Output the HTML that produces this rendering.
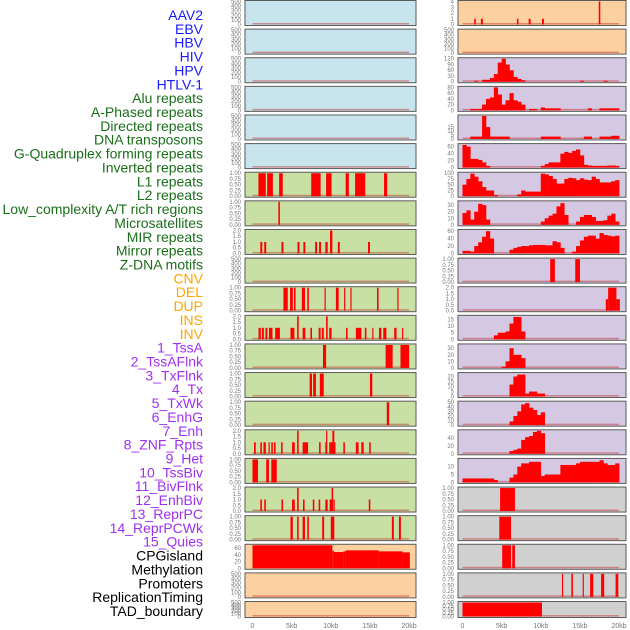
<!DOCTYPE html>
<html><head><meta charset="utf-8">
<style>
body{margin:0;background:#fff;}
svg{display:block;font-family:"Liberation Sans",sans-serif;}
</style></head>
<body>
<svg id="chart" width="630" height="630" viewBox="0 0 630 630" xmlns="http://www.w3.org/2000/svg">
<g id="labels"></g>
<g id="panels"></g>
</svg>
<script>
// ---------- data ----------
const trackNames = ["AAV2","EBV","HBV","HIV","HPV","HTLV-1","Alu repeats","A-Phased repeats","Directed repeats","DNA transposons","G-Quadruplex forming repeats","Inverted repeats","L1 repeats","L2 repeats","Low_complexity A/T rich regions","Microsatellites","MIR repeats","Mirror repeats","Z-DNA motifs","CNV","DEL","DUP","INS","INV","1_TssA","2_TssAFlnk","3_TxFlnk","4_Tx","5_TxWk","6_EnhG","7_Enh","8_ZNF_Rpts","9_Het","10_TssBiv","11_BivFlnk","12_EnhBiv","13_ReprPC","14_ReprPCWk","15_Quies","CPGisland","Methylation","Promoters","ReplicationTiming","TAD_boundary"];
const labelColors = ["#1a1aff","#1a6e1a","#ffa500","#a030f0","#000000"];
const groupSizes = [6,13,5,15,5];
const xTickKb = [0,5,10,15,20];
const xTickLabels = ["0","5kb","10kb","15kb","20kb"];
const ticks500 = [0,100,200,300,400,500];
const ticks1 = [0,0.25,0.5,0.75,1];
const ticks2 = [0,0.5,1,1.5,2];

// left column segment data [startKb, endKb, value]
const segL7 = [[0.76,1.7,1],[1.87,2.6,1],[3.4,3.86,1],[7.5,8.7,1],[9.4,10.1,1],[11.9,12.3,1],[13.1,14.4,1],[16.8,17.2,1]];
const segL8 = [[3.3,3.5,1]];
const segL9 = [[1.0,1.25,1],[1.5,1.75,1],[3.7,3.95,1],[5.75,6.0,1],[6.5,6.75,1],[8.0,8.25,1],[8.5,8.75,1],[9.3,9.6,1],[9.9,10.2,2],[10.9,11.15,1],[14.75,15.0,1]];
const segL11 = [[3.95,4.5,1],[4.8,5.15,1],[5.3,5.5,1],[6.3,6.7,1],[7.0,7.2,1],[9.2,9.35,1],[10.65,11.0,1],[11.7,11.85,1],[12.5,12.65,1],[15.9,16.1,1],[18.5,18.65,1]];
const segL12 = [[0.77,1.06,1],[1.2,1.45,1],[1.65,1.9,1],[2.1,2.55,1],[2.9,3.5,1],[4.85,5.35,1],[5.7,5.9,2],[6.4,6.75,1],[7.4,7.6,1],[8.45,8.7,1],[8.85,9.1,1],[9.4,9.6,2],[9.8,10.1,1],[11.95,12.15,1],[13.2,13.9,1],[14.35,14.55,1],[15.3,15.45,1],[16.15,16.45,1],[16.7,17.1,1],[18.1,18.4,1],[19.1,19.25,1]];
const segL13 = [[9.0,9.4,1],[17.0,17.9,1],[18.9,20.0,1]];
const segL14 = [[7.3,7.6,1],[7.75,8.1,1],[8.6,9.1,1],[15.0,15.3,1]];
const segL15 = [[17.15,17.45,1]];
const segL16 = [[0.2,0.42,1],[1.0,1.2,1],[1.4,1.7,1],[2.05,2.2,1],[2.4,2.6,1],[2.75,2.95,1],[3.65,3.85,1],[5.05,5.4,1],[5.7,5.9,2],[6.4,7.1,1],[8.5,8.7,1],[9.3,9.5,1],[9.4,9.55,2],[9.8,10.6,1],[10.2,10.45,2],[11.6,11.8,1],[13.2,13.55,1],[13.9,14.2,1],[14.9,15.1,1]];
const segL17 = [[0,0.7,1],[1.75,2.1,1],[2.4,3.1,1]];
const segL18 = [[1.0,1.2,1],[1.5,1.7,1],[3.7,3.9,1],[5.05,5.4,1],[5.7,5.9,2],[6.45,6.65,1],[7.7,7.9,1],[8.45,8.65,1],[9.3,9.6,1],[9.85,10.15,1],[10.1,10.3,2],[10.35,10.5,1],[14.85,15.05,1]];
const segL19 = [[4.85,5.15,1],[5.7,5.9,1],[6.4,6.7,1],[7.0,7.2,1],[8.9,9.15,1],[10.0,10.45,1],[17.8,18.05,1],[18.7,18.95,1]];
const segCpg = [[0,10.2,68],[10.2,10.4,52],[10.4,11.6,48],[11.6,11.9,50],[11.9,16.1,53],[16.1,19.15,50],[19.15,20.1,47]];

// right column
const segR1 = [[1.5,1.7,1],[2.35,2.6,1],[6.95,7.15,1],[8.45,8.7,1],[10.15,10.4,1],[17.4,17.6,4]];
const histR3 = [0,0,0,5,0,10,10,20,40,100,120,90,60,25,15,8,0,0,0,0,0,0,0,0,0,0,0,0,0,0,5,0,0,0,0,0,5,0,0,0];
const histR4 = [0,0,5,5,5,20,40,45,80,55,20,35,60,35,30,20,0,5,5,0,10,7,7,7,7,0,0,0,0,0,0,0,7,0,0,7,7,7,7,7];
const histR5 = [0,0,3,3,3,29,15,3,3,3,3,3,0,0,0,0,0,0,0,0,3,3,3,3,3,0,0,0,0,0,0,3,3,0,0,3,3,3,4,4];
const histR6 = [65,60,25,25,22,15,5,0,0,0,0,0,0,0,0,0,0,0,0,0,5,10,15,15,15,40,45,42,48,52,35,8,6,5,5,5,5,6,6,5];
const histR7 = [50,75,98,85,65,40,25,25,5,0,0,0,0,0,8,25,20,20,20,20,98,95,88,75,55,55,75,80,78,70,78,72,70,85,75,60,60,60,65,70];
const histR8 = [18,22,8,20,32,30,8,0,0,0,0,0,0,0,0,0,0,0,0,0,5,10,14,17,28,33,15,0,0,5,12,15,15,12,6,6,7,14,17,5];
const histR9 = [7,7,5,20,30,45,60,40,0,0,0,0,10,15,18,20,20,22,23,23,23,22,22,33,30,15,0,0,5,20,35,45,48,48,40,55,50,48,46,48];
const segR10 = [[11.2,11.8,1],[14.4,15.0,1]];
const segR11 = [[18.3,18.6,1],[18.6,19.66,2],[19.66,20.1,1]];
const histR12 = [0,0,0,0,0,0,0,0,3,5,5,6,12,17,17,6,0,0,0,0,0,0,0,0,0,0,0,0,0,0,0,0,0,0,0,0,0,0,0,0];
const histR13 = [0,0,0,0,0,0,0,0,0,0,2,10,30,20,20,15,0,0,0,0,0,0,0,0,0,0,0,0,0,0,0,0,0,0,0,0,0,0,0,0];
const histR14 = [0,0,0,0,0,0,0,0,0,0,0,0,12,20,22,22,3,5,5,3,3,0,0,0,0,0,0,0,0,0,0,0,0,0,0,0,0,0,0,0];
const histR15 = [0,0,0,0,0,0,0,0,0,0,0,0,8,20,30,45,48,38,33,22,28,0,0,0,0,0,0,0,0,0,0,0,0,0,0,0,0,0,0,0];
const histR16 = [0,0,0,0,0,0,0,0,0,0,0,0,7,10,13,35,42,45,55,58,52,0,0,0,0,0,0,0,0,0,0,0,0,0,0,0,0,0,0,0];
const histR17 = [2.5,2.5,2.5,2.5,2.5,2.5,2.5,2.5,1.5,0,0,0,3,5,10,12,12,13,13,13,4,5,5,5,5,11,11,11,11,12,13,13,13,13,13,14,12,11,11,12];
const segR18 = [[4.8,6.7,1]];
const segR19 = [[4.8,6.7,1]];
const segR20 = [[4.7,6.2,1]];
const segR21 = [[5.07,6.2,1],[6.35,6.7,1]];
const segR22 = [[12.7,12.85,1],[13.9,14.1,1],[15.35,15.5,1],[16.3,16.7,1],[17.7,18.1,1],[19.55,19.9,1]];
const segR23 = [[0,10.15,1]];

const leftTracks = [
 {fill:"#c8e4ec",max:500,ticks:ticks500},{fill:"#c8e4ec",max:500,ticks:ticks500},{fill:"#c8e4ec",max:500,ticks:ticks500},
 {fill:"#c8e4ec",max:500,ticks:ticks500},{fill:"#c8e4ec",max:500,ticks:ticks500},{fill:"#c8e4ec",max:500,ticks:ticks500},
 {fill:"#c8e0a4",max:1,ticks:ticks1,segs:segL7},{fill:"#c8e0a4",max:1,ticks:ticks1,segs:segL8},
 {fill:"#c8e0a4",max:2,ticks:ticks2,segs:segL9},{fill:"#c8e0a4",max:500,ticks:ticks500},
 {fill:"#c8e0a4",max:1,ticks:ticks1,segs:segL11},{fill:"#c8e0a4",max:2,ticks:ticks2,segs:segL12},
 {fill:"#c8e0a4",max:1,ticks:ticks1,segs:segL13},{fill:"#c8e0a4",max:1,ticks:ticks1,segs:segL14},
 {fill:"#c8e0a4",max:1,ticks:ticks1,segs:segL15},{fill:"#c8e0a4",max:2,ticks:ticks2,segs:segL16},
 {fill:"#c8e0a4",max:1,ticks:ticks1,segs:segL17},{fill:"#c8e0a4",max:2,ticks:ticks2,segs:segL18},
 {fill:"#c8e0a4",max:1,ticks:ticks1,segs:segL19},
 {fill:"#fdd09f",max:68,ticks:[0,20,40,60],segs:segCpg},{fill:"#fdd09f",max:500,ticks:ticks500},{fill:"#fdd09f",max:500,ticks:ticks500}
];
const rightTracks = [
 {fill:"#fdd09f",max:4,ticks:[0,1,2,3,4],segs:segR1},{fill:"#fdd09f",max:500,ticks:ticks500},
 {fill:"#d5c8e2",max:120,ticks:[0,30,60,90,120],hist:histR3},{fill:"#d5c8e2",max:80,ticks:[0,20,40,60,80],hist:histR4},
 {fill:"#d5c8e2",max:29,ticks:[0,5,10,15],hist:histR5},{fill:"#d5c8e2",max:66,ticks:[0,20,40,60],hist:histR6},
 {fill:"#d5c8e2",max:100,ticks:[0,25,50,75,100],hist:histR7},{fill:"#d5c8e2",max:35,ticks:[0,10,20,30],hist:histR8},
 {fill:"#d5c8e2",max:62,ticks:[0,20,40,60],hist:histR9},{fill:"#d5c8e2",max:1,ticks:ticks1,segs:segR10},
 {fill:"#d5c8e2",max:2,ticks:ticks2,segs:segR11},{fill:"#d5c8e2",max:17.5,ticks:[0,5,10,15],hist:histR12},
 {fill:"#d5c8e2",max:35,ticks:[0,10,20,30],hist:histR13},{fill:"#d5c8e2",max:23,ticks:[0,5,10,15,20],hist:histR14},
 {fill:"#d5c8e2",max:50,ticks:[0,10,20,30,40,50],hist:histR15},{fill:"#d5c8e2",max:58,ticks:[0,20,40],hist:histR16},
 {fill:"#d5c8e2",max:14.5,ticks:[0,5,10],hist:histR17},
 {fill:"#d0d0d0",max:1,ticks:ticks1,segs:segR18},{fill:"#d0d0d0",max:1,ticks:ticks1,segs:segR20},
 {fill:"#d0d0d0",max:1,ticks:ticks1,segs:segR21},{fill:"#d0d0d0",max:1,ticks:ticks1,segs:segR22},
 {fill:"#d0d0d0",max:1,ticks:ticks1,segs:segR23}
];

// ---------- drawing ----------
const NS = "http://www.w3.org/2000/svg";
function mk(tag, attrs, parent){const e=document.createElementNS(NS,tag);for(const k in attrs)e.setAttribute(k,attrs[k]);parent.appendChild(e);return e;}
const labelsG = document.getElementById("labels");
const panelsG = document.getElementById("panels");

let idx=0;
groupSizes.forEach((n,g)=>{
  for(let i=0;i<n;i++){
    const t = mk("text",{x:203,y:20+idx*13.86,"text-anchor":"end","font-size":"14",fill:labelColors[g]},labelsG);
    t.textContent = trackNames[idx];
    
    
    idx++;
  }
});

function fmtTick(v,max){
  if(max===1) return v.toFixed(2);
  if(max===2) return v.toFixed(1);
  return String(v);
}
function drawColumn(tracks, px, pw, x0, side){
  const kbScale = 7.83;
  const xs = kb => x0 + kb*kbScale;
  tracks.forEach((tr,i)=>{
    const top = i*28.62 + 0.5;
    const h = (i===tracks.length-1) ? 16 : 25;
    const g = mk("g",{},panelsG);
    
    
    mk("rect",{x:px,y:top,width:pw,height:h,fill:tr.fill,stroke:"#5a5a5a","stroke-width":1},g);
    const yb = top+h-1, yt = top+1;
    const ys = v => yb - (v/tr.max)*(yb-yt);
    // baseline
    const bl = mk("rect",{x:xs(0),y:yb-1.5,width:xs(20)-xs(0),height:1.5,fill:"rgba(190,40,40,0.45)"},g);
    
    
    if(tr.segs){
      tr.segs.forEach(s=>{
        const r = mk("rect",{x:xs(s[0]),y:ys(s[2]),width:Math.max(1,xs(s[1])-xs(s[0])),height:yb-ys(s[2]),fill:"#ff0000"},g);
        
        
      });
    }
    if(tr.hist){
      tr.hist.forEach((v,b)=>{
        if(v<=0) return;
        const r = mk("rect",{x:xs(b*0.5),y:ys(v),width:xs(0.5)-xs(0)+0.3,height:yb-ys(v),fill:"#ff0000"},g);
        
        
      });
    }
    tr.ticks.forEach(v=>{
      const t = mk("text",{x:px-4,y:ys(v)+2,"text-anchor":"end","font-size":"6",fill:"#777"},g);
      t.textContent = fmtTick(v,tr.max===68?60:tr.max);
      
      
    });
  });
  xTickKb.forEach((k,j)=>{
    const t = mk("text",{x:xs(k),y:628,"text-anchor":"middle","font-size":"7",fill:"#777"},panelsG);
    t.textContent = xTickLabels[j];
    
    
  });
}
drawColumn(leftTracks, 245, 171, 252.5, 'left');
drawColumn(rightTracks, 458, 168, 462.5, 'right');
</script>
</body></html>
